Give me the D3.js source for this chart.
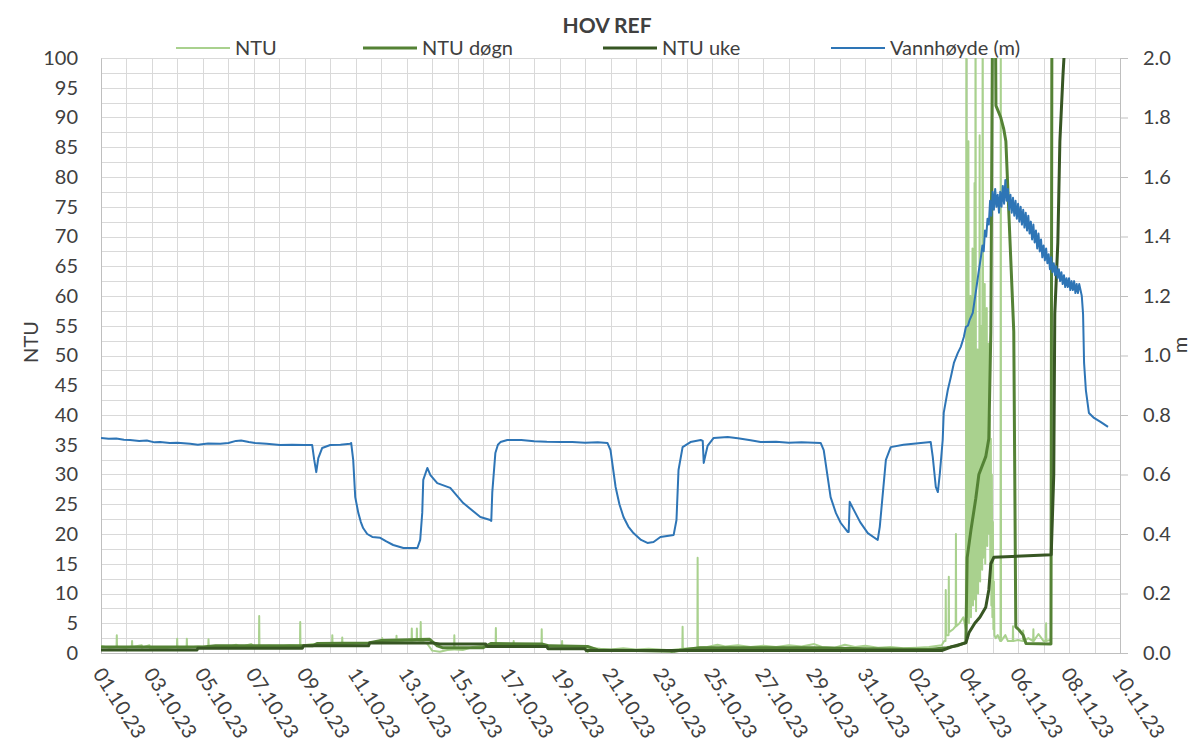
<!DOCTYPE html>
<html>
<head>
<meta charset="utf-8">
<title>HOV REF</title>
<script src="https://d3js.org/d3.v7.min.js"></script>
<style>
  body { margin: 0; background: #fff; }
  text { font-family: Lato, "Liberation Sans", sans-serif; fill: #404040; }
</style>
</head>
<body>
<script>
// time is in days after 01.10.23 00:00
var seriesNames = ["NTU", "NTU døgn", "NTU uke", "Vannhøyde (m)"];
var dayTicks = d3.range(0, 41, 2);
var ntuTicks = d3.range(0, 101, 5);
var meterTicks = [0, 0.2, 0.4, 0.6, 0.8, 1.0, 1.2, 1.4, 1.6, 1.8, 2.0];

var ntu = [[0,1.2],[0.3,0.9],[0.6,1.0],[0.61,1.0],[0.62,3.0],[0.63,1.0],[1.0,0.9],[1.2,1.1],[1.21,1.1],[1.22,2.0],
  [1.23,1.0],[1.6,1.3],[1.61,0.9],[1.9,1.3],[1.91,0.9],[2.5,0.8],[2.98,1.0],[2.99,2.4],[3.0,0.9],[3.36,0.9],[3.37,2.4],
  [3.38,0.9],[3.8,1.1],[4.21,1.0],[4.22,2.3],[4.23,1.0],[4.6,0.9],[5.0,1.0],[5.3,1.4],[5.5,1.0],[5.9,1.5],[6.0,1.1],
  [6.2,1.1],[6.21,6.2],[6.22,1.1],[6.6,1.2],[7.0,1.1],[7.4,1.3],[7.81,1.2],[7.82,5.2],[7.83,1.2],[8.3,1.5],[8.7,1.3],
  [9.07,1.4],[9.08,3.0],[9.09,1.4],[9.46,1.4],[9.47,2.6],[9.48,1.4],[10.0,1.6],[10.5,1.7],[11.03,1.8],[11.04,2.5],
  [11.05,1.8],[11.59,1.9],[11.6,2.9],[11.61,1.9],[12.0,2.1],[12.19,2.0],[12.2,4.1],[12.21,2.0],[12.39,2.1],[12.4,4.1],
  [12.41,2.1],[12.54,2.0],[12.55,5.2],[12.56,2.0],[12.8,1.6],[13.0,0.4],[13.3,0.2],[13.6,0.5],[13.86,0.6],[13.87,3.0],
  [13.88,0.6],[14.2,0.5],[14.6,1.0],[15.0,1.2],[15.49,1.2],[15.5,4.2],[15.51,1.2],[16.19,1.1],[16.2,2.0],[16.21,1.1],
  [16.8,1.2],[17.29,1.1],[17.3,4.0],[17.31,1.1],[18.09,1.0],[18.1,2.0],[18.11,1.0],[18.6,0.9],[19.0,1.2],[19.09,0.9],
  [19.1,0.1],[19.11,0.9],[19.6,0.7],[20.0,0.6],[20.5,0.8],[21.0,0.6],[21.5,0.7],[22.2,0.5],[22.39,0.5],[22.4,0.0],
  [22.41,0.5],[22.82,0.7],[22.83,4.4],[22.84,0.7],[23.41,0.9],[23.42,16],[23.43,0.9],[23.8,1.0],[24.2,1.4],[24.5,1.1],
  [25.0,1.3],[25.5,1.0],[26.0,1.2],[26.5,1.0],[27.0,1.3],[27.5,1.1],[28.0,1.5],[28.3,1.0],[28.8,0.9],[29.2,1.4],[29.6,1.0],
  [30.0,1.2],[30.5,0.9],[31.0,1.0],[31.5,0.8],[32.0,0.9],[32.5,1.0],[33.0,1.3],[33.1,2.0],[33.15,2.0],[33.16,10.6],
  [33.17,3.0],[33.27,3.0],[33.28,12.8],[33.29,3.5],[33.45,4.0],[33.55,4.5],[33.56,20],[33.57,4.5],[33.7,5.0],[33.85,6.0],
  [33.95,4],[33.97,120],[33.99,6],[34.01,45],[34.03,8],[34.05,86],[34.07,5],[34.09,38],[34.11,10],[34.13,60],[34.15,6],
  [34.17,42],[34.19,12],[34.21,68],[34.23,8],[34.25,35],[34.27,14],[34.29,79],[34.31,9],[34.33,120],[34.35,7],[34.37,48],
  [34.39,15],[34.41,51],[34.43,10],[34.45,40],[34.47,18],[34.49,87],[34.51,12],[34.53,45],[34.55,20],[34.57,55],[34.59,14],
  [34.61,120],[34.63,16],[34.65,50],[34.67,22],[34.69,62],[34.71,15],[34.73,46],[34.75,25],[34.77,58],[34.79,18],[34.81,44],
  [34.83,28],[34.85,52],[34.87,20],[34.89,40],[34.91,12],[34.93,36],[34.95,8],[34.97,30],[34.99,6],[35.01,22],[35.03,4],
  [35.05,12],[35.07,3],[35.12,2.5],[35.2,3.0],[35.3,2.0],[35.31,2.0],[35.32,120],[35.33,2.0],[35.5,3.0],[35.6,2.0],
  [35.79,2.0],[35.8,4.5],[35.81,2.0],[36.0,2.2],[36.19,2.0],[36.2,3.8],[36.21,2.0],[36.4,2.5],[36.59,2.0],[36.6,4.0],
  [36.61,2.0],[36.8,3.2],[37.0,2.0],[37.09,2.0],[37.1,5.0],[37.11,2.0],[37.25,2.2]];

var ntuDogn = [[0,1.0],[2,1.0],[4,1.0],[4.5,1.2],[8.3,1.2],[8.5,1.6],[10.5,1.7],[11,2.1],[12.9,2.3],[13.2,1.2],[13.4,0.9],
  [15.0,0.9],[15.3,1.6],[17.3,1.5],[17.6,1.2],[19.1,1.1],[19.5,0.5],[21,0.4],[22.5,0.3],[22.8,0.5],[23.5,0.9],[25,0.9],
  [28,0.9],[30,0.7],[32.5,0.6],[33.2,0.9],[33.6,1.2],[33.95,1.8],[34.0,16],[34.15,20.7],[34.34,26],[34.46,30],[34.73,33],
  [34.85,36],[34.93,54],[35.0,110],[35.08,130],[35.13,92],[35.32,90],[35.44,88],[35.52,86],[35.83,54],[35.91,4.4],
  [36.03,3.9],[36.2,3.0],[36.31,1.6],[37.29,1.5],[37.36,200]];

var ntuUke = [[0,0.5],[3.77,0.5],[3.8,0.8],[7.9,0.8],[7.95,1.2],[10.5,1.2],[10.55,1.7],[13.0,1.7],[13.3,1.5],[15.1,1.5],
  [15.15,1.1],[17.5,1.1],[17.55,0.7],[19.0,0.7],[19.05,0.4],[33.0,0.4],[33.36,1.0],[33.95,1.7],[34.07,3.4],[34.3,5.0],
  [34.5,6.0],[34.73,7.7],[34.85,10.6],[34.93,15],[35.05,16.1],[37.3,16.5],[37.4,30],[37.44,57],[37.56,69],[37.64,86],
  [37.76,97],[37.8,100],[37.9,130]];

var vannhoyde = [[0,0.723],[0.3,0.720],[0.6,0.721],[0.9,0.717],[1.14,0.716],[1.5,0.713],[1.8,0.714],[2.1,0.708],[2.32,0.709],
  [2.7,0.706],[3.0,0.707],[3.5,0.703],[3.8,0.700],[4.2,0.704],[4.68,0.703],[5.0,0.706],[5.3,0.713],[5.5,0.714],[5.8,0.709],
  [6.05,0.706],[6.5,0.703],[7.03,0.699],[7.5,0.700],[8.0,0.699],[8.29,0.699],[8.37,0.649],[8.45,0.608],[8.53,0.655],
  [8.68,0.689],[9.0,0.699],[9.4,0.700],[9.78,0.703],[9.82,0.706],[9.9,0.649],[9.98,0.524],[10.10,0.471],[10.2,0.440],
  [10.29,0.420],[10.45,0.400],[10.65,0.390],[10.96,0.387],[11.2,0.375],[11.47,0.363],[11.87,0.353],[12.42,0.353],
  [12.53,0.380],[12.61,0.471],[12.65,0.582],[12.81,0.622],[12.93,0.598],[13.2,0.571],[13.71,0.555],[14.22,0.504],
  [14.89,0.457],[15.28,0.447],[15.32,0.444],[15.36,0.541],[15.48,0.672],[15.58,0.700],[15.68,0.709],[15.95,0.716],
  [16.5,0.716],[17.0,0.712],[17.5,0.710],[18.04,0.709],[18.5,0.709],[19.0,0.707],[19.5,0.708],[19.88,0.706],[20.0,0.682],
  [20.2,0.558],[20.35,0.500],[20.51,0.457],[20.7,0.425],[20.9,0.403],[21.2,0.380],[21.45,0.370],[21.69,0.373],
  [21.96,0.390],[22.48,0.397],[22.59,0.447],[22.67,0.615],[22.83,0.692],[23.14,0.709],[23.54,0.716],[23.62,0.713],
  [23.66,0.639],[23.73,0.666],[23.81,0.696],[24.05,0.723],[24.6,0.726],[25.0,0.722],[25.5,0.715],[25.89,0.709],
  [26.5,0.710],[27.0,0.707],[27.5,0.708],[28.25,0.706],[28.37,0.682],[28.64,0.524],[28.85,0.470],[29.04,0.437],
  [29.31,0.407],[29.35,0.407],[29.39,0.508],[29.55,0.481],[29.8,0.440],[30.10,0.403],[30.49,0.380],[30.57,0.424],
  [30.81,0.649],[31.0,0.692],[31.5,0.700],[32.18,0.706],[32.57,0.709],[32.65,0.659],[32.77,0.558],[32.85,0.541],
  [32.93,0.605],[33.04,0.716],[33.08,0.807],[33.24,0.884],[33.36,0.928],[33.48,0.975],[33.63,1.008],[33.75,1.029],
  [33.87,1.062],[33.95,1.096],[34.03,1.10],[34.1,1.12],[34.22,1.143],[34.35,1.22],[34.45,1.28],[34.54,1.331],
  [34.6,1.37],[34.65,1.35],[34.7,1.42],[34.75,1.40],[34.8,1.46],[34.85,1.44],[34.9,1.52],[34.95,1.47],[35.0,1.55],
  [35.05,1.49],[35.1,1.56],[35.15,1.50],[35.2,1.54],[35.25,1.48],[35.3,1.55],[35.35,1.50],[35.4,1.57],[35.45,1.51],
  [35.5,1.59],[35.55,1.52],[35.6,1.56],[35.65,1.49],[35.7,1.54],[35.75,1.48],[35.8,1.53],[35.85,1.47],[35.9,1.52],
  [35.95,1.46],[36.0,1.51],[36.05,1.45],[36.1,1.50],[36.15,1.44],[36.2,1.49],[36.25,1.43],[36.3,1.48],[36.35,1.42],
  [36.4,1.47],[36.45,1.41],[36.5,1.45],[36.55,1.39],[36.6,1.44],[36.65,1.38],[36.7,1.42],[36.75,1.36],[36.8,1.41],
  [36.85,1.35],[36.9,1.39],[36.95,1.33],[37.0,1.37],[37.05,1.32],[37.1,1.36],[37.15,1.31],[37.2,1.34],[37.25,1.29],
  [37.3,1.33],[37.35,1.28],[37.4,1.31],[37.45,1.27],[37.5,1.30],[37.55,1.26],[37.6,1.29],[37.65,1.25],[37.7,1.28],
  [37.75,1.24],[37.8,1.27],[37.85,1.23],[37.9,1.26],[37.95,1.23],[38.0,1.26],[38.05,1.22],[38.1,1.25],[38.15,1.22],
  [38.2,1.25],[38.25,1.21],[38.3,1.24],[38.35,1.21],[38.4,1.24],[38.45,1.22],[38.5,1.20],[38.55,1.14],[38.59,0.975],
  [38.66,0.884],[38.78,0.807],[38.98,0.790],[39.25,0.776],[39.53,0.760]];

var colors = ["#a9d18e", "#548235", "#375623", "#2e75b6"];
var widths = [2, 3, 3, 2];

var W = 1202, H = 751;
var plotLeft = 101, plotRight = 1120, plotTop = 58, plotBottom = 653;
var start = Date.UTC(2023, 9, 1);
function day(d) { return new Date(start + d * 864e5); }

var svg = d3.select("body").append("svg").attr("width", W).attr("height", H);

var x = d3.scaleUtc().domain([day(0), day(40)]).range([plotLeft, plotRight]);
var y = d3.scaleLinear().domain([0, 100]).range([plotBottom, plotTop]);
var y2 = d3.scaleLinear().domain([0, 2]).range([plotBottom, plotTop]);

// gridlines: one per day, one per 2.5 NTU
var grid = svg.append("g").attr("stroke", "#d9d9d9").attr("stroke-width", 1);
grid.selectAll("line.v").data(d3.range(0, 41)).enter().append("line")
  .attr("x1", function (d) { return Math.round(x(day(d))) + 0.5; })
  .attr("x2", function (d) { return Math.round(x(day(d))) + 0.5; })
  .attr("y1", plotTop).attr("y2", plotBottom);
grid.selectAll("line.h").data(d3.range(0, 101, 2.5)).enter().append("line")
  .attr("x1", plotLeft).attr("x2", plotRight)
  .attr("y1", function (d) { return Math.round(y(d)) + 0.5; })
  .attr("y2", function (d) { return Math.round(y(d)) + 0.5; });

// axes
var yAxis = svg.append("g").attr("transform", "translate(" + plotLeft + ",0)")
  .call(d3.axisLeft(y).tickValues(ntuTicks).tickSize(0).tickPadding(23));
var y2Axis = svg.append("g").attr("transform", "translate(" + plotRight + ",0)")
  .call(d3.axisRight(y2).tickValues(meterTicks).tickFormat(d3.format(".1f")).tickSize(8).tickSizeOuter(0).tickPadding(15));
[yAxis, y2Axis].forEach(function (g) {
  g.selectAll("path,line").attr("stroke", "#bfbfbf");
  g.selectAll("text").style("font-size", "20px").attr("fill", "#404040");
});
svg.append("line").attr("x1", plotLeft).attr("x2", plotRight)
  .attr("y1", plotBottom + 0.5).attr("y2", plotBottom + 0.5).attr("stroke", "#bfbfbf");

svg.append("g").selectAll("text").data(dayTicks).enter().append("text")
  .attr("transform", function (d) { return "translate(" + (x(day(d)) - 3) + "," + (plotBottom + 17) + ") rotate(57)"; })
  .attr("dy", "0.35em")
  .style("font-size", "20px")
  .text(function (d) { return d3.utcFormat("%d.%m.%y")(day(d)); });

// series, clipped to the plot area
svg.append("clipPath").attr("id", "plot").append("rect")
  .attr("x", plotLeft).attr("y", plotTop).attr("width", plotRight - plotLeft).attr("height", plotBottom - plotTop);
var plot = svg.append("g").attr("clip-path", "url(#plot)");

var lineNtu = d3.line().x(function (p) { return x(day(p[0])); }).y(function (p) { return y(p[1]); });
var lineM = d3.line().x(function (p) { return x(day(p[0])); }).y(function (p) { return y2(p[1]); });

[ntu, ntuDogn, ntuUke].forEach(function (s, i) {
  plot.append("path").datum(s).attr("d", lineNtu).attr("fill", "none")
    .attr("stroke", colors[i]).attr("stroke-width", widths[i]).attr("stroke-linejoin", "round");
});
plot.append("path").datum(vannhoyde).attr("d", lineM).attr("fill", "none")
  .attr("stroke", colors[3]).attr("stroke-width", widths[3]).attr("stroke-linejoin", "round");

// titles
svg.append("text").attr("x", 607).attr("y", 33).attr("text-anchor", "middle")
  .style("font-size", "21px").style("font-weight", "bold").attr("fill", "#595959").text("HOV REF");
svg.append("text").attr("transform", "translate(38,342) rotate(-90)").attr("text-anchor", "middle")
  .style("font-size", "20px").text("NTU");
svg.append("text").attr("transform", "translate(1187,345) rotate(-90)").attr("text-anchor", "middle")
  .style("font-size", "20px").text("m");

// legend
var legendX = [176, 363, 603, 831];
var legend = svg.append("g");
seriesNames.forEach(function (name, i) {
  legend.append("line").attr("x1", legendX[i]).attr("x2", legendX[i] + 54).attr("y1", 48).attr("y2", 48)
    .attr("stroke", colors[i]).attr("stroke-width", widths[i]);
  legend.append("text").attr("x", legendX[i] + 59).attr("y", 55).style("font-size", "20px").text(name);
});
</script>
</body>
</html>
